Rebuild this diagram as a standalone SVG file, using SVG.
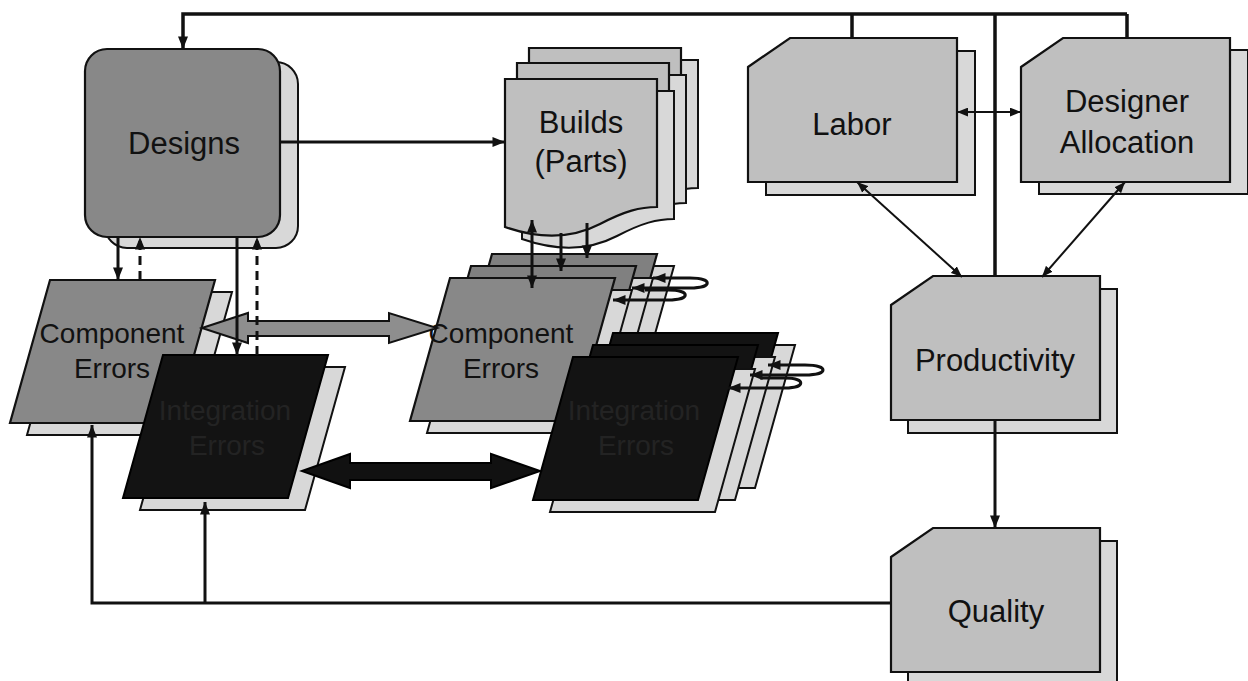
<svg xmlns="http://www.w3.org/2000/svg" width="1248" height="681" viewBox="0 0 1248 681">
<style>
.ln{fill:none;stroke:#111;stroke-width:3}
.thin{fill:none;stroke:#111;stroke-width:2}
.dash{stroke-dasharray:9,6}
.sh{fill:#d8d8d8;stroke:#111;stroke-width:2}
.dk{fill:#888;stroke:#111;stroke-width:2.2}
.dk2{fill:#808080;stroke:#111;stroke-width:2.2}
.lt{fill:#bfbfbf;stroke:#111;stroke-width:2.2}
.bk{fill:#131313;stroke:#000;stroke-width:2}
text{font-family:"Liberation Sans",Arial,sans-serif;text-anchor:middle;fill:#111}
.big{font-size:31px}
.mid{font-size:28px}
.ie{fill:#232323}
</style>
<defs>
<marker id="ah" viewBox="0 0 10 8" refX="10" refY="4" markerWidth="13" markerHeight="10" markerUnits="userSpaceOnUse" orient="auto-start-reverse"><path d="M0,0 L10,4 L0,8 z" fill="#111"/></marker>
<marker id="as" viewBox="0 0 10 8" refX="10" refY="4" markerWidth="11" markerHeight="9" markerUnits="userSpaceOnUse" orient="auto-start-reverse"><path d="M0,0 L10,4 L0,8 z" fill="#111"/></marker>
<polygon id="para" points="0,0 165,0 125,143 -40,143"/>
<path id="doc" d="M0,0 H152 V128 C135,128 120,132 95,145 C70,158 40,162 0,148 Z"/>
<polygon id="card" points="0,29 42,0 209,0 209,144 0,144"/>
</defs>

<g id="designs">
<rect x="105" y="62" width="193" height="186" rx="22" class="sh"/>
<rect x="85" y="49" width="195" height="188" rx="22" class="dk"/>
<text x="184" y="154" class="big">Designs</text>
</g>

<g id="builds">
<use href="#doc" x="546" y="60" class="sh"/>
<use href="#doc" x="529" y="48" class="lt"/>
<use href="#doc" x="534" y="75" class="sh"/>
<use href="#doc" x="517" y="63" class="lt"/>
<use href="#doc" x="522" y="91" class="sh"/>
<use href="#doc" x="505" y="79" class="lt"/>
<text x="581" y="133" class="big">Builds</text>
<text x="581" y="172" class="big">(Parts)</text>
</g>

<g id="labor">
<use href="#card" x="766" y="51" class="sh"/>
<use href="#card" x="748" y="38" class="lt"/>
<text x="852" y="135" class="big">Labor</text>
</g>

<g id="designer-allocation">
<use href="#card" x="1039" y="50" class="sh"/>
<use href="#card" x="1021" y="38" class="lt"/>
<text x="1127" y="112" class="big">Designer</text>
<text x="1127" y="153" class="big">Allocation</text>
</g>

<g id="productivity">
<use href="#card" x="908" y="289" class="sh"/>
<use href="#card" x="891" y="276" class="lt"/>
<text x="995" y="371" class="big">Productivity</text>
</g>

<g id="quality">
<use href="#card" x="908" y="541" class="sh"/>
<use href="#card" x="891" y="528" class="lt"/>
<text x="996" y="622" class="big">Quality</text>
</g>

<g id="component-errors-1">
<use href="#para" x="67" y="292" class="sh"/>
<use href="#para" x="50" y="280" class="dk"/>
<text x="112" y="343" class="mid">Component</text>
<text x="112" y="378" class="mid">Errors</text>
</g>

<g id="integration-errors-1">
<use href="#para" x="180" y="367" class="sh"/>
<use href="#para" x="163" y="355" class="bk"/>
<text x="225" y="420" class="mid ie">Integration</text>
<text x="227" y="455" class="mid ie">Errors</text>
</g>

<g id="component-errors-2">
<use href="#para" x="509" y="266" class="sh"/>
<use href="#para" x="492" y="254" class="dk2"/>
<use href="#para" x="488" y="278" class="sh"/>
<use href="#para" x="471" y="266" class="dk2"/>
<use href="#para" x="467" y="290" class="sh"/>
<use href="#para" x="450" y="278" class="dk"/>
<text x="501" y="343" class="mid">Component</text>
<text x="501" y="378" class="mid">Errors</text>
</g>

<g id="integration-errors-2">
<use href="#para" x="630" y="345" class="sh"/>
<use href="#para" x="613" y="333" class="bk"/>
<use href="#para" x="610" y="357" class="sh"/>
<use href="#para" x="593" y="345" class="bk"/>
<use href="#para" x="590" y="369" class="sh"/>
<use href="#para" x="573" y="357" class="bk"/>
<text x="634" y="420" class="mid ie">Integration</text>
<text x="636" y="455" class="mid ie">Errors</text>
</g>

<g id="connectors">
<polygon points="202,328 248,313 248,321 389,321 389,313 437,328 389,343 389,336 248,336 248,343" fill="#8e8e8e" stroke="#111" stroke-width="2"/>
<polygon points="302,471 350,454 350,463 491,463 491,454 540,471 491,488 491,480 350,480 350,488" fill="#111" stroke="#000" stroke-width="2"/>

<path class="ln" d="M995,276 V14 M852,38 V14 M1127,38 V14 M1127,14 H183 V49" marker-end="url(#ah)" style="stroke-width:3.5"/>
<path class="ln" d="M280,142 H505" marker-end="url(#ah)"/>
<path class="thin" d="M957,112 H1021" marker-start="url(#as)" marker-end="url(#as)"/>
<path class="thin" d="M857,182 L962,277" marker-start="url(#as)" marker-end="url(#as)"/>
<path class="thin" d="M1125,182 L1042,277" marker-start="url(#as)" marker-end="url(#as)"/>
<path class="ln" d="M995,419 V528" marker-end="url(#ah)"/>
<path class="ln" d="M891,603 H92 V425" marker-end="url(#ah)"/>
<path class="ln" d="M205,603 V502" marker-end="url(#ah)"/>

<path class="ln" d="M118,237 V280" marker-end="url(#ah)"/>
<path class="ln dash" d="M140,280 V237" marker-end="url(#ah)"/>
<path class="ln" d="M237,237 V355" marker-end="url(#ah)"/>
<path class="ln dash" d="M257,355 V237" marker-end="url(#ah)"/>

<path class="ln" d="M532,220 V288" marker-start="url(#ah)" marker-end="url(#ah)"/>
<path class="ln" d="M561,233 V271" marker-end="url(#ah)"/>
<path class="ln" d="M587,223 V258" marker-end="url(#ah)"/>

<path class="ln" d="M632,288 H690 C713,288 713,278 690,278 H653" marker-start="url(#ah)" marker-end="url(#ah)"/>
<path class="ln" d="M613,300 H668 C691,300 691,290 668,290 H645" marker-start="url(#ah)"/>
<path class="ln" d="M750,375 H805 C829,375 829,365 805,365 H768" marker-start="url(#ah)" marker-end="url(#ah)"/>
<path class="ln" d="M728,388 H785 C806,388 806,378 785,378 H760" marker-start="url(#ah)"/>
</g>
</svg>
